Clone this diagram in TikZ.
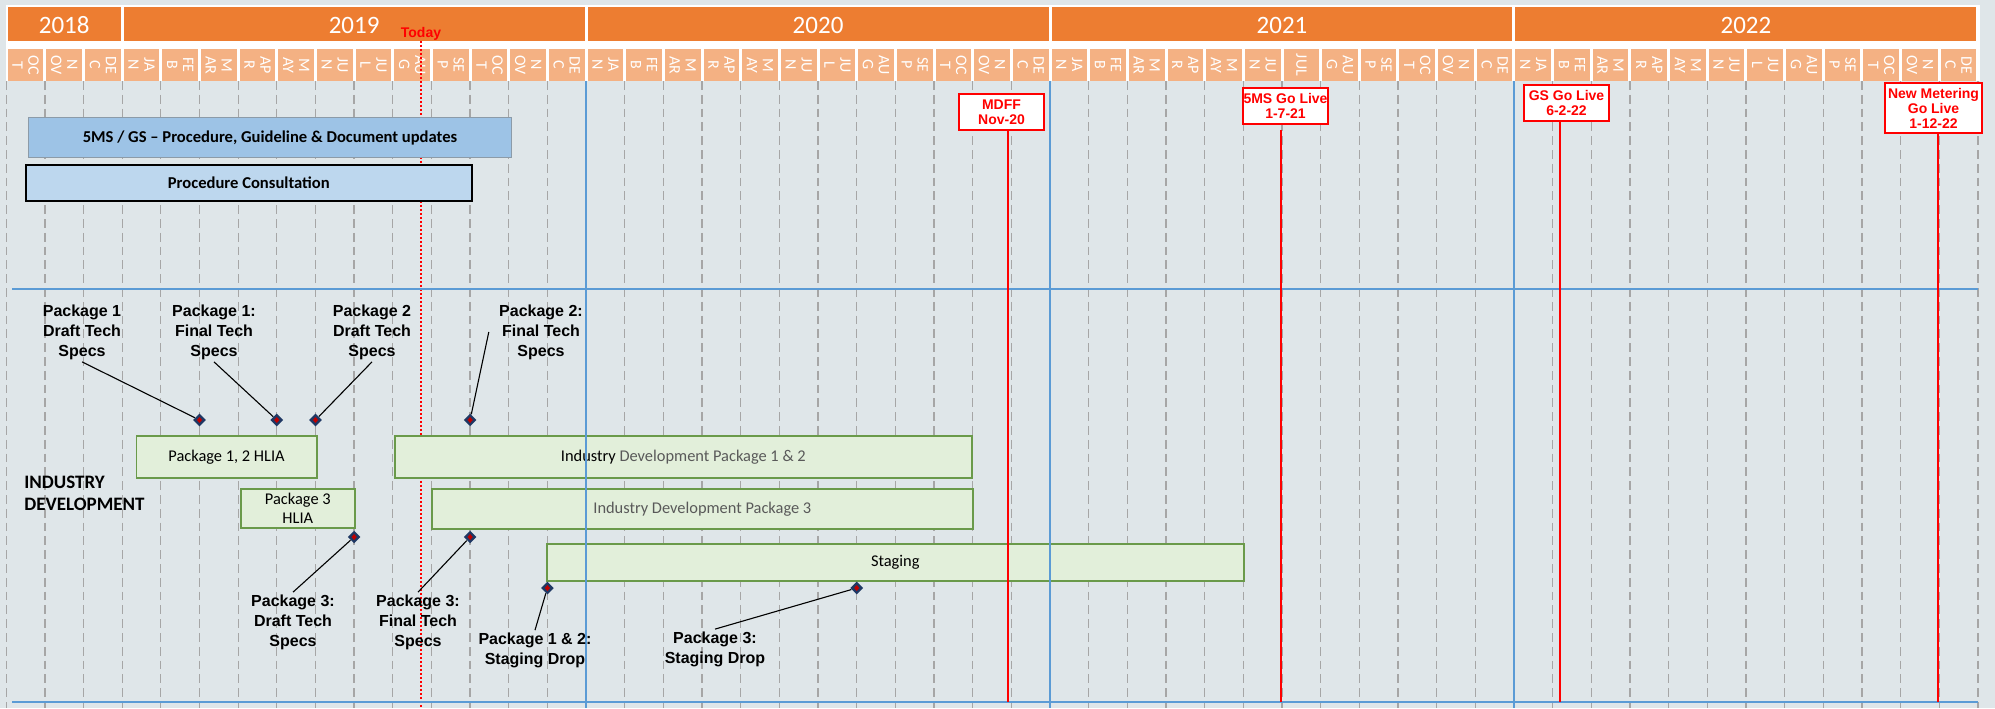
\documentclass[tikz,border=0pt]{standalone}
\usepackage{fontspec}
\setmainfont{Carlito}
\newfontfamily\arialfont{Liberation Sans}
\usetikzlibrary{shapes.geometric}

\definecolor{bggray}{HTML}{DFE6E9}
\definecolor{yearorange}{HTML}{ED7D31}
\definecolor{monthorange}{HTML}{F4B183}
\definecolor{gridgray}{HTML}{A6A6A6}
\definecolor{lineblue}{HTML}{5B9BD5}
\definecolor{boxblue}{HTML}{9DC3E6}
\definecolor{boxlightblue}{HTML}{BDD7EE}
\definecolor{boxedge}{HTML}{8C9BA8}
\definecolor{barfill}{HTML}{E2EFDA}
\definecolor{barline}{HTML}{6A9A4A}
\definecolor{bartext}{HTML}{595959}
\definecolor{msnavy}{HTML}{1F3864}
\definecolor{msred}{HTML}{C00000}
\definecolor{golive}{HTML}{FF0000}

\tikzset{
  yeartxt/.style={text=white, inner sep=0pt, font=\fontsize{12.5}{12.5}\selectfont},
  monthtxt/.style={text=white, rotate=-90, align=center, inner sep=0pt,
    font=\fontsize{8}{8}\selectfont},
  gridline/.style={gridgray, line width=0.65pt, dash pattern=on 4.4pt off 2.5pt},
  yearline/.style={lineblue, line width=0.7pt},
  laneline/.style={lineblue, line width=1.4pt},
  todayline/.style={golive, line width=1.2pt, dash pattern=on 1pt off 1pt},
  taskbox/.style={rectangle, anchor=north west, inner sep=0pt,
    font=\bfseries\fontsize{8.3}{9}\selectfont},
  devbar/.style={rectangle, anchor=north west, draw=barline, line width=0.8pt,
    fill=barfill, inner sep=0pt, align=center, font=\fontsize{8.2}{9.5}\selectfont},
  milestone/.style={diamond, fill=msnavy, inner sep=0pt, minimum width=6.5pt,
    minimum height=6.5pt, path picture={\fill[msred] (path picture bounding box.center)
      +(0,1.5pt) -- +(1.3pt,0) -- +(0,-1.5pt) -- +(-1.3pt,0) -- cycle;}},
  msnote/.style={align=center, inner sep=1pt,
    font=\arialfont\bfseries\fontsize{8}{10}\selectfont},
  leader/.style={black, line width=0.55pt},
  golivebox/.style={draw=golive, line width=1pt, fill=white, text=golive,
    align=center, inner sep=0pt, font=\arialfont\bfseries\fontsize{7}{7.5}\selectfont},
  golivewire/.style={golive, line width=1.4pt}
}

\begin{document}
\begin{tikzpicture}[x=0.5pt, y=-0.5pt]
  \useasboundingbox (0,0) rectangle (1995,708);
  \fill[bggray] (0,0) rectangle (1995,708);
  \fill[white] (5.5,5) rectangle (1980,81);

  % years and months
  \foreach \a/\b/\yr in {0/3/2018,3/15/2019,15/27/2020,27/39/2021,39/51/2022}{
    \fill[yearorange] ({6.2+38.66*\a+1.5},7) rectangle ({6.2+38.66*\b-1.5},41);
    \node[yeartxt] (y\yr) at ({6.2+38.66*(\a+\b)/2},25) {\yr};
  }
  \foreach \lbl [count=\m from 0] in {{OC\\T},{N\\OV},{DE\\C}}{
    \fill[monthorange] ({6.2+38.66*\m+1.5},49) rectangle ({6.2+38.66*(\m+1)-1.5},81);
    \node[monthtxt] (m\m) at ({6.2+38.66*(\m+0.5)},65) {\lbl};
  }
  \foreach \yr in {0,...,3}
    \foreach \lbl [count=\k from 3] in {{JA\\N},{FE\\B},{M\\AR},{AP\\R},{M\\AY},{JU\\N},
        {JU\\L},{AU\\G},{SE\\P},{OC\\T},{N\\OV},{DE\\C}}{
      \pgfmathtruncatemacro\m{\k+12*\yr}
      \ifnum\m=33 \def\lbl{JUL}\fi
      \fill[monthorange] ({6.2+38.66*\m+1.5},49) rectangle ({6.2+38.66*(\m+1)-1.5},81);
      \node[monthtxt] (m\m) at ({6.2+38.66*(\m+0.5)},65) {\lbl};
    }

  \foreach \m in {0,...,51}
    \draw[gridline] ({6.2+38.66*\m},81) -- ({6.2+38.66*\m},708);

  % today
  \node[text=golive, inner sep=0pt, font=\arialfont\bfseries\fontsize{7}{7}\selectfont]
    (today) at (421,34) {Today};
  \coordinate (todayend) at (421,708);
  \draw[todayline] (today.south) -- (todayend);

  % procedure work
  \node[taskbox, fill=boxblue, draw=boxedge, line width=0.5pt,
    minimum width=241.5pt, minimum height=20pt] (updates) at (28,117)
    {5MS / GS – Procedure, Guideline \& Document updates};
  \node[taskbox, fill=boxlightblue, draw=black, line width=0.8pt,
    minimum width=223pt, minimum height=18pt] (consult) at (25,164)
    {Procedure Consultation};

  % industry development
  \node[devbar, minimum width=90.25pt, minimum height=21pt] (hliaonetwo) at (135.5,435)
    {Package 1, 2 HLIA};
  \node[devbar, minimum width=288.5pt, minimum height=21pt] (devonetwo) at (394,435)
    {Industry \textcolor{bartext}{Development Package 1 \& 2}};
  \node[devbar, minimum width=57pt, minimum height=19.5pt] (hliathree) at (240,488)
    {Package 3\\HLIA};
  \node[devbar, minimum width=270.5pt, minimum height=20pt, text=bartext] (devthree)
    at (431,488) {Industry Development Package 3};
  \node[devbar, minimum width=348.5pt, minimum height=18.5pt] (staging) at (546,543)
    {Staging};
  \node[anchor=west, align=left, inner sep=0pt, font=\bfseries\fontsize{9.5}{11}\selectfont]
    (lane) at (24,493) {INDUSTRY\\DEVELOPMENT};

  \foreach \m in {15,27,39}
    \draw[yearline] ({6.2+38.66*\m},81) -- ({6.2+38.66*\m},708);
  \draw[laneline] (12,289) -- (1978,289);
  \draw[laneline] (12,702) -- (1978,702);

  % go live dates
  \node[golivebox, minimum width=42.5pt, minimum height=18pt] (mdff) at (1001.5,112)
    {MDFF\\Nov-20};
  \node[golivebox, minimum width=42.5pt, minimum height=18pt] (fivems) at (1285.5,106)
    {5MS Go Live\\1-7-21};
  \node[golivebox, minimum width=42.5pt, minimum height=18pt] (gslive) at (1566.5,103)
    {GS Go Live\\6-2-22};
  \node[golivebox, minimum width=48.5pt, minimum height=25pt] (newmeter) at (1933.5,108)
    {New Metering\\Go Live\\1-12-22};
  \coordinate (mdffend) at (1008,702);
  \coordinate (fivemsend) at (1281,702);
  \coordinate (gsliveend) at (1560,702);
  \coordinate (newmeterend) at (1938,702);
  \draw[golivewire] (mdff.south -| mdffend) -- (mdffend);
  \draw[golivewire] ([yshift=-2.5pt]fivems.south -| fivemsend) -- (fivemsend);
  \draw[golivewire] (gslive.south -| gsliveend) -- (gsliveend);
  \draw[golivewire] (newmeter.south -| newmeterend) -- (newmeterend);

  % milestones
  \node[milestone] (onedraft) at (199.5,420) {};
  \node[milestone] (onefinal) at (276.8,420) {};
  \node[milestone] (twodraft) at (315.5,420) {};
  \node[milestone] (twofinal) at (470.1,420) {};
  \node[milestone] (threedraft) at (354.1,537) {};
  \node[milestone] (threefinal) at (470.1,537) {};
  \node[milestone] (onetwodrop) at (547.4,588) {};
  \node[milestone] (threedrop) at (856.7,588) {};

  \node[msnote] (onedrafttxt) at (82,332) {Package 1\\Draft Tech\\Specs};
  \node[msnote] (onefinaltxt) at (214,332) {Package 1:\\Final Tech\\Specs};
  \node[msnote] (twodrafttxt) at (372,332) {Package 2\\Draft Tech\\Specs};
  \node[msnote] (twofinaltxt) at (541,332) {Package 2:\\Final Tech\\Specs};
  \node[msnote] (threedrafttxt) at (293,622) {Package 3:\\Draft Tech\\Specs};
  \node[msnote] (threefinaltxt) at (418,622) {Package 3:\\Final Tech\\Specs};
  \node[msnote] (onetwodroptxt) at (535,650) {Package 1 \& 2:\\Staging Drop};
  \node[msnote] (threedroptxt) at (715,649) {Package 3:\\Staging Drop};

  \draw[leader] (onedrafttxt.south) -- (onedraft);
  \draw[leader] (onefinaltxt.south) -- (onefinal);
  \draw[leader] (twodrafttxt.south) -- (twodraft);
  \draw[leader] ([xshift=-4pt]twofinaltxt.west) -- (twofinal);
  \draw[leader] (threedrafttxt.north) -- (threedraft);
  \draw[leader] (threefinaltxt.north) -- (threefinal);
  \draw[leader] (onetwodroptxt.north) -- (onetwodrop);
  \draw[leader] (threedroptxt.north) -- (threedrop);
\end{tikzpicture}
\end{document}
